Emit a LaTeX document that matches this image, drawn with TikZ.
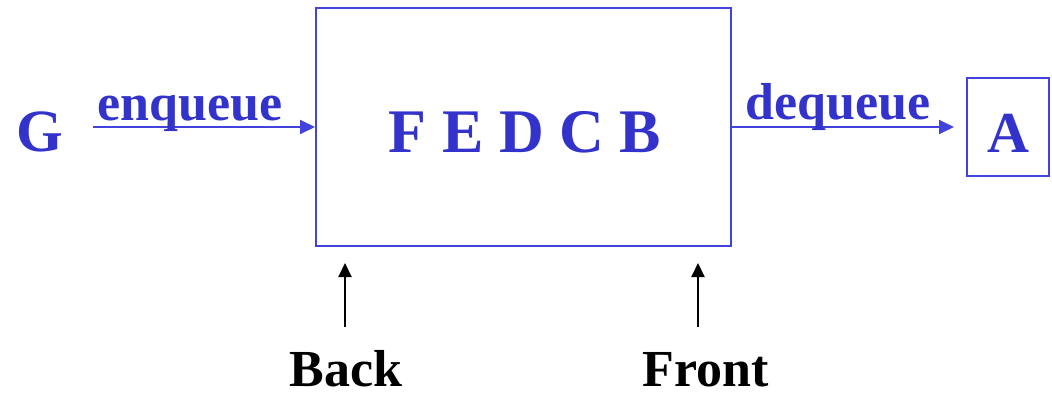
\documentclass[tikz,border=0pt]{standalone}
\usepackage{fontspec}
\setmainfont{Liberation Serif}
\usetikzlibrary{arrows.meta}
\definecolor{qtext}{RGB}{51,51,204}
\definecolor{qline}{RGB}{66,66,220}
\tikzset{
  qfont/.style={font=\fontsize{#1}{#1}\selectfont\bfseries},
  qlabel/.style={inner sep=0pt, anchor=base, text=qtext, text depth=0pt},
  qbox/.style={draw=qline, line width=2pt, inner sep=0pt},
  bluearrow/.style={draw=qline, line width=2pt, -{Triangle[length=15pt,width=14pt]}},
  blackarrow/.style={draw=black, line width=2pt, -{Triangle[length=14pt,width=13pt]}}
}
\begin{document}
\begin{tikzpicture}[x=1pt,y=-1pt]
  \useasboundingbox (0,0) rectangle (1052,394);
  % queue container and the dequeued element
  \node[qbox, minimum width=415pt, minimum height=238pt] (queue) at (523.5,127) {};
  \node[qbox, minimum width=82pt, minimum height=98pt] (out) at (1008,127) {};
  % element letters
  \node[qlabel, qfont=62] (items) at (525,152) {F E D C B};
  \node[qlabel, qfont=60] (g) at (40,151) {G};
  \node[qlabel, qfont=58] (a) at (1008,152) {A};
  % operations
  \coordinate (enqtail) at (93,127);
  \draw[bluearrow] (enqtail) -- (queue.west);
  \draw[bluearrow, shorten >=12pt] (queue.east) -- (out.west);
  \node[qlabel, qfont=52] (enq) at (190,120) {enqueue};
  \node[qlabel, qfont=52] (deq) at (838,119) {dequeue};
  % pointers
  \coordinate (backtail) at (345,327);
  \coordinate (backtip) at (345,263);
  \coordinate (fronttail) at (698,327);
  \coordinate (fronttip) at (698,263);
  \draw[blackarrow] (backtail) -- (backtip);
  \draw[blackarrow] (fronttail) -- (fronttip);
  \node[qlabel, text=black, qfont=52] (back) at (346,386) {Back};
  \node[qlabel, text=black, qfont=52] (front) at (706,386) {Front};
\end{tikzpicture}
\end{document}
